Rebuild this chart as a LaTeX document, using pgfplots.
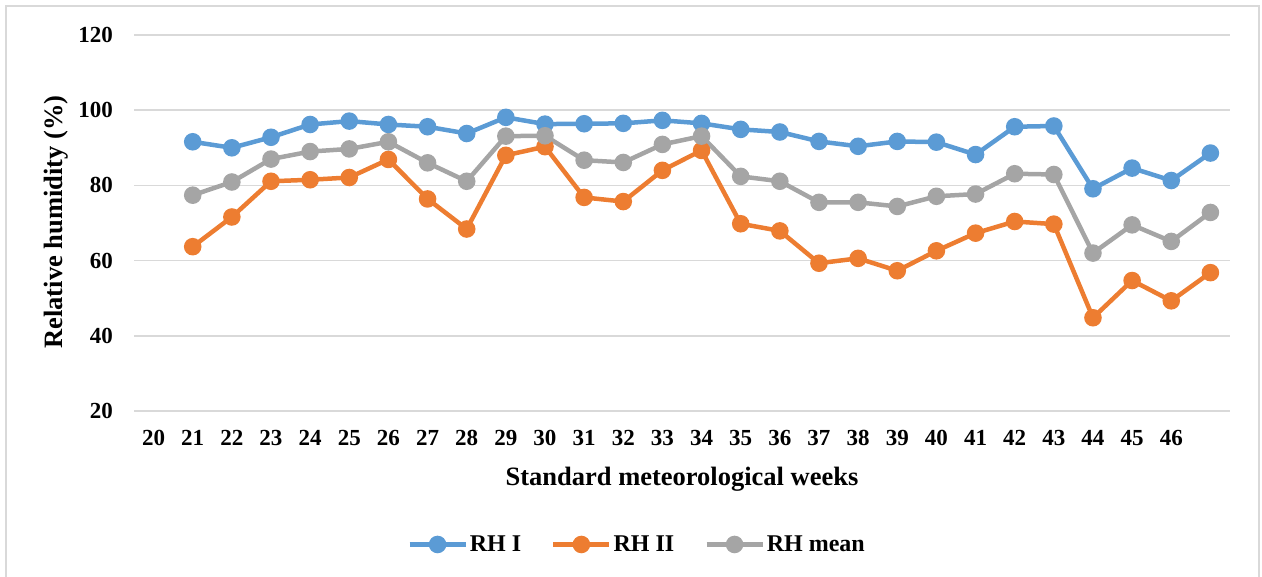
\documentclass[border=0pt]{standalone}
\usepackage{pgfplots}
\pgfplotsset{compat=1.18}
\usepackage{fontspec}
\setmainfont{Liberation Serif}

\definecolor{rhone}{HTML}{5B9BD5}
\definecolor{rhtwo}{HTML}{ED7D31}
\definecolor{rhmean}{HTML}{A5A5A5}
\definecolor{gridgray}{HTML}{D9D9D9}

\begin{document}
\begin{tikzpicture}
\path[use as bounding box] (0bp,0bp) rectangle (1262bp,577bp);
% chart area border (left, top, right)
\draw[gridgray, line width=1.5bp] (6bp,0bp) -- (6bp,571bp) -- (1259bp,571bp) -- (1259bp,0bp);

\begin{axis}[
    at={(134bp,166bp)}, anchor=south west,
    scale only axis,
    width=1096bp, height=376bp,
    xmin=19.5, xmax=47.5,
    ymin=20, ymax=120,
    xtick={20,...,46},
    ytick={20,40,...,120},
    axis line style={draw=none},
    tick style={draw=none},
    ymajorgrids,
    grid style={gridgray, line width=1.5bp},
    /pgf/number format/assume math mode=true,
    ticklabel style={font=\fontsize{23bp}{27bp}\selectfont\bfseries, inner sep=0pt},
    yticklabel style={anchor=east, xshift=-21bp},
    xticklabel style={anchor=north, yshift=-19bp},
    legend columns=3,
    legend style={at={(0.459,-0.355)}, anchor=center, draw=none,
        font=\fontsize{24bp}{28bp}\selectfont\bfseries,
        /tikz/every even column/.append style={column sep=28bp}},
    legend image code/.code={
        \draw[#1, mark repeat=2, mark phase=2]
        plot coordinates {(0bp,0bp) (28bp,0bp) (56bp,0bp)};},
    every axis plot/.append style={line width=4.5bp, mark=*, mark size=6.5bp},
]

\addplot[color=rhone, mark options={fill=rhone, draw=rhone}] coordinates {
(21,91.6) (22,90.0) (23,92.8) (24,96.2) (25,97.1) (26,96.2) (27,95.6)
(28,93.8) (29,98.1) (30,96.3) (31,96.4) (32,96.5) (33,97.3) (34,96.5)
(35,94.9) (36,94.2) (37,91.7) (38,90.4) (39,91.7) (40,91.5) (41,88.2)
(42,95.6) (43,95.8) (44,79.1) (45,84.6) (46,81.3) (47,88.6)
};
\addlegendentry{RH I}

\addplot[color=rhtwo, mark options={fill=rhtwo, draw=rhtwo}] coordinates {
(21,63.7) (22,71.6) (23,81.1) (24,81.5) (25,82.1) (26,86.9) (27,76.4)
(28,68.4) (29,88.0) (30,90.3) (31,76.8) (32,75.7) (33,84.0) (34,89.3)
(35,69.8) (36,67.9) (37,59.3) (38,60.6) (39,57.3) (40,62.6) (41,67.3)
(42,70.4) (43,69.7) (44,44.8) (45,54.7) (46,49.3) (47,56.8)
};
\addlegendentry{RH II}

\addplot[color=rhmean, mark options={fill=rhmean, draw=rhmean}] coordinates {
(21,77.4) (22,80.9) (23,87.0) (24,89.0) (25,89.7) (26,91.6) (27,86.0)
(28,81.1) (29,93.1) (30,93.2) (31,86.7) (32,86.1) (33,90.9) (34,93.1)
(35,82.4) (36,81.1) (37,75.5) (38,75.5) (39,74.4) (40,77.1) (41,77.7)
(42,83.1) (43,82.9) (44,62.0) (45,69.5) (46,65.1) (47,72.8)
};
\addlegendentry{RH mean}

\end{axis}

\node[font=\fontsize{26.5bp}{30bp}\selectfont\bfseries] at (682bp,98bp) {Standard meteorological weeks};
\node[font=\fontsize{26.5bp}{30bp}\selectfont\bfseries, rotate=90] at (56bp,355bp) {Relative humidity (\%)};
\end{tikzpicture}
\end{document}
